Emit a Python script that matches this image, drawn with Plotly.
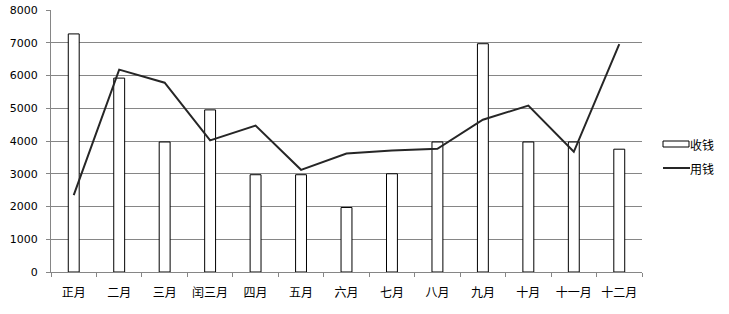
import plotly.graph_objects as go

months = ["正月", "二月", "三月", "闰三月", "四月", "五月", "六月", "七月", "八月", "九月", "十月", "十一月", "十二月"]
income = [7270, 5920, 3970, 4950, 2970, 2970, 1970, 3000, 3970, 6970, 3970, 3970, 3750]
spend = [2350, 6180, 5780, 4020, 4470, 3120, 3620, 3710, 3760, 4650, 5080, 3670, 6960]
y_ticks = [0, 1000, 2000, 3000, 4000, 5000, 6000, 7000, 8000]
series_names = ["收钱", "用钱"]

W, H = 729, 314
L, R, T, B = 51, 87, 10, 42

fig = go.Figure()
fig.add_trace(go.Bar(
    x=months, y=income, name=series_names[0],
    marker=dict(color="white", line=dict(color="#000000", width=1)),
))
fig.add_trace(go.Scatter(
    x=months, y=spend, name=series_names[1], mode="lines",
    line=dict(color="#262626", width=2),
))

# custom legend (Excel style) in paper coordinates
pw, ph = W - L - R, H - T - B
def px(x):
    return (x - L) / pw
def py(y):
    return 1 - (y - T) / ph

fig.add_shape(type="rect", xref="paper", yref="paper",
              x0=px(663), x1=px(689), y0=py(147), y1=py(141),
              line=dict(color="#000000", width=1), fillcolor="white")
fig.add_shape(type="line", xref="paper", yref="paper",
              x0=px(663), x1=px(690), y0=py(168), y1=py(168),
              line=dict(color="#262626", width=2))
for name, yy in zip(series_names, [144, 168]):
    fig.add_annotation(xref="paper", yref="paper", x=px(690), y=py(yy),
                       text=name, showarrow=False, xanchor="left", yanchor="middle",
                       xshift=-2,
                       font=dict(family="Noto Sans CJK SC", size=12, color="#000000"))

fig.update_layout(
    width=W, height=H,
    margin=dict(l=L, r=R, t=T, b=B),
    paper_bgcolor="white", plot_bgcolor="white",
    bargap=0.76,
    showlegend=False,
    font=dict(family="DejaVu Sans", size=11, color="#000000"),
)
fig.update_xaxes(
    type="category", automargin=False,
    showgrid=False,
    showline=True, linecolor="#868686", linewidth=1,
    ticks="outside", ticklen=4, tickcolor="#868686",
    tickson="boundaries",
    ticklabelstandoff=10,
    tickfont=dict(family="Noto Sans CJK SC", size=12, color="#000000"),
    range=[-0.5, 12.5],
)
fig.update_yaxes(
    range=[0, 8000], automargin=False,
    tickvals=y_ticks,
    showgrid=True, gridcolor="#868686", gridwidth=1,
    showline=True, linecolor="#868686", linewidth=1,
    ticks="outside", ticklen=4, tickcolor="#868686",
    ticklabelstandoff=6,
    zeroline=False,
    tickfont=dict(family="DejaVu Sans", size=11, color="#000000"),
)

fig.write_html("out.html")
